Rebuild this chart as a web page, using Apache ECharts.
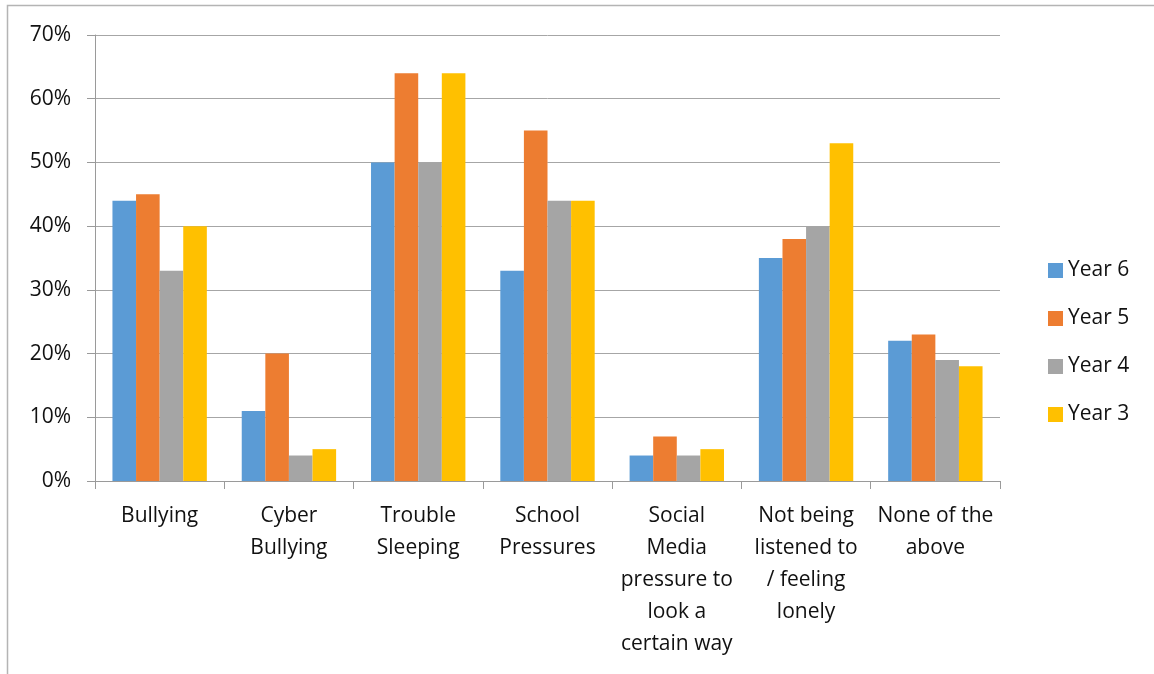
<!DOCTYPE html>
<html>
<head>
<meta charset="utf-8">
<style>
  html, body { margin: 0; padding: 0; background: #fff; }
  #chart { width: 1154px; height: 674px; }
</style>
<script src="https://cdn.jsdelivr.net/npm/echarts@6/dist/echarts.min.js"></script>
</head>
<body>
<div id="chart"></div>
<script>
// Worry categories (line breaks follow the wrapped axis labels)
const categories = [
  'Bullying',
  'Cyber\nBullying',
  'Trouble\nSleeping',
  'School\nPressures',
  'Social\nMedia\npressure to\nlook a\ncertain way',
  'Not being\nlistened to\n/ feeling\nlonely',
  'None of the\nabove'
];

// Percentage of pupils per year group
const year6 = [44, 11, 50, 33, 4, 35, 22];
const year5 = [45, 20, 64, 55, 7, 38, 23];
const year4 = [33, 4, 50, 44, 4, 40, 19];
const year3 = [40, 5, 64, 44, 5, 53, 18];

const seriesNames = ['Year 6', 'Year 5', 'Year 4', 'Year 3'];
const seriesData = [year6, year5, year4, year3];
const colors = ['#5B9BD5', '#ED7D31', '#A5A5A5', '#FFC000'];

const FONT = '"Open Sans", "Liberation Sans", sans-serif';

const chart = echarts.init(document.getElementById('chart'), null, { renderer: 'canvas' });

chart.setOption({
  animation: false,
  color: colors,
  textStyle: { fontFamily: FONT },
  graphic: [{
    type: 'rect',
    shape: { x: 7.5, y: 5.5, width: 1200, height: 700 },
    style: { fill: 'none', stroke: '#b4b4b4', lineWidth: 1.5 },
    silent: true
  }],
  grid: { left: 95, right: 154, top: 35, bottom: 193, containLabel: false },
  legend: {
    orient: 'vertical',
    left: 1043,
    top: 255,
    itemWidth: 15,
    itemHeight: 15,
    itemGap: 27,
    icon: 'rect',
    textStyle: { fontSize: 21, color: '#111', fontFamily: FONT },
    data: seriesNames
  },
  xAxis: {
    type: 'category',
    data: categories,
    axisLine: { lineStyle: { color: '#9a9a9a', width: 1 } },
    axisTick: { show: true, length: 8, alignWithLabel: false, lineStyle: { color: '#9a9a9a' } },
    axisLabel: {
      interval: 0,
      fontSize: 21,
      lineHeight: 32,
      color: '#111',
      margin: 19,
      fontFamily: FONT
    }
  },
  yAxis: {
    type: 'value',
    min: 0,
    max: 70,
    interval: 10,
    axisLine: { show: true, lineStyle: { color: '#9a9a9a' } },
    axisTick: { show: true, length: 8, lineStyle: { color: '#9a9a9a' } },
    splitLine: { lineStyle: { color: '#a6a6a6', width: 1 } },
    axisLabel: {
      formatter: '{value}%',
      fontSize: 21,
      color: '#111',
      margin: 24,
      fontFamily: FONT
    }
  },
  series: seriesNames.map((name, i) => ({
    name: name,
    type: 'bar',
    data: seriesData[i],
    barGap: '0%',
    barCategoryGap: '27%',
    itemStyle: { color: colors[i] }
  }))
});
</script>
</body>
</html>
